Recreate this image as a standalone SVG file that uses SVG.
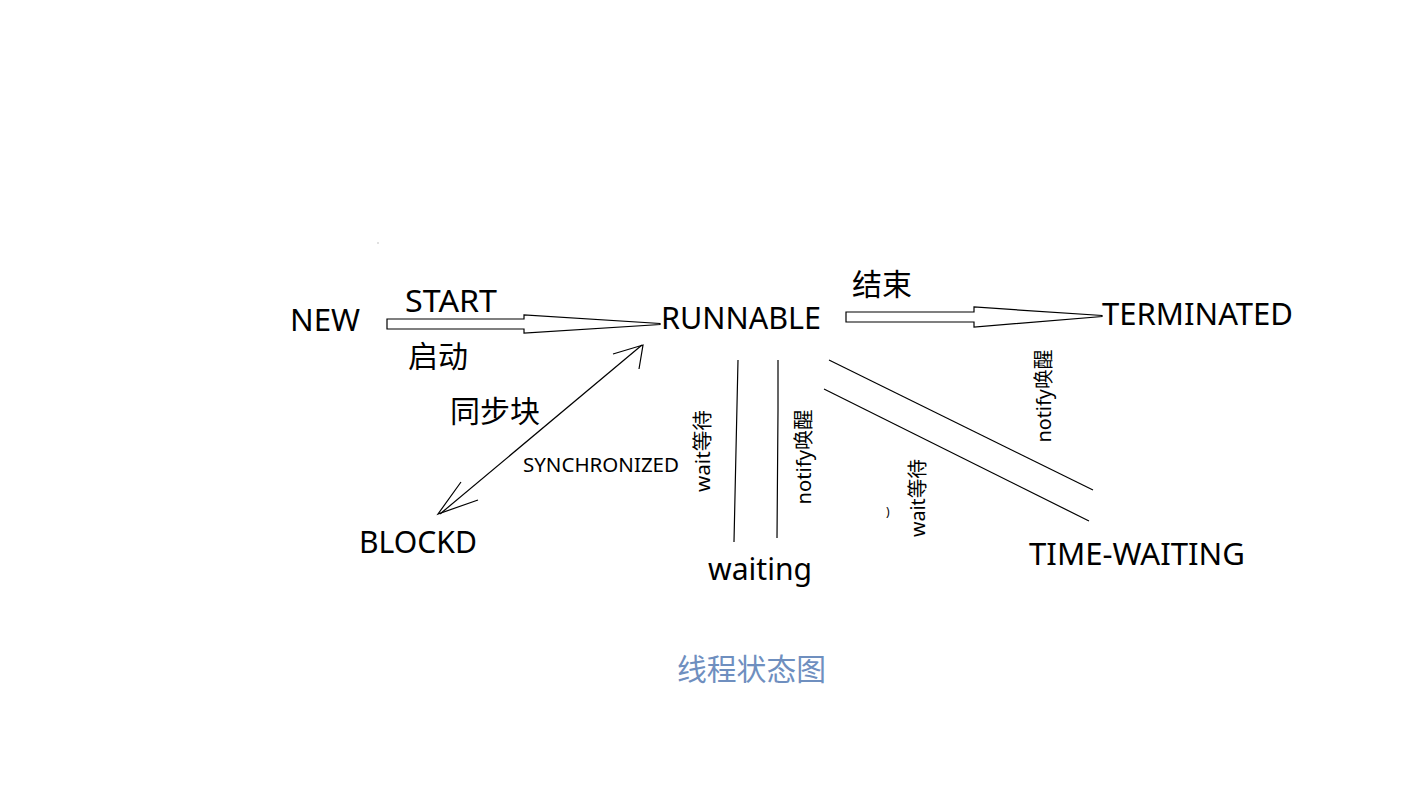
<svg xmlns="http://www.w3.org/2000/svg" width="1423" height="793" viewBox="0 0 1423 793">
<style>
.t{font-family:"Noto Sans","Noto Sans CJK SC",sans-serif;fill:#000;}
.big{font-size:30px;}
.mid{font-size:19px;}
.v{font-size:20px;text-anchor:middle;}
.cap{font-size:30px;fill:#6f8fbf;}
.ln{stroke:#000;stroke-width:1.2;fill:none;}
.ha{stroke:#000;stroke-width:1.2;fill:#fff;}
</style>
<rect width="1423" height="793" fill="#fff"/>
<circle cx="378" cy="243" r="0.8" fill="#bbb"/>
<g id="connectors">
<polygon class="ha" points="387,319 524,319 524,315 660,323.5 660,324.5 524,333 524,329 387,329"/>
<polygon class="ha" points="846,312 974,312 974,307 1102,315.5 1102,316.5 974,327 974,322 846,322"/>
<line class="ln" x1="440" y1="514" x2="642" y2="345"/>
<polyline class="ln" points="613,354 643,345 639,369"/>
<polyline class="ln" points="461,482 438,514 478,500"/>
<polyline class="ln" points="738,360 736,450 734,542"/>
<polyline class="ln" points="778,360 778,410 777,538"/>
<line class="ln" x1="829" y1="360" x2="1093" y2="490"/>
<line class="ln" x1="824" y1="389" x2="1089" y2="521"/>
</g>
<g id="new"><text class="t big" x="290" y="331" textLength="70" lengthAdjust="spacingAndGlyphs">NEW</text></g>
<g id="start-label"><text class="t big" x="405" y="312" textLength="92" lengthAdjust="spacingAndGlyphs">START</text>
<text class="t big" x="408" y="367" textLength="60" lengthAdjust="spacingAndGlyphs">启动</text></g>
<g id="runnable"><text class="t big" x="661" y="329" textLength="160" lengthAdjust="spacingAndGlyphs">RUNNABLE</text></g>
<g id="end-label"><text class="t big" x="852" y="295" textLength="60" lengthAdjust="spacingAndGlyphs">结束</text></g>
<g id="terminated"><text class="t big" x="1102" y="325" textLength="191" lengthAdjust="spacingAndGlyphs">TERMINATED</text></g>
<g id="sync-label"><text class="t big" x="450" y="422" textLength="90" lengthAdjust="spacingAndGlyphs">同步块</text>
<text class="t mid" x="523" y="472" textLength="156" lengthAdjust="spacingAndGlyphs">SYNCHRONIZED</text></g>
<g id="blockd"><text class="t big" x="359" y="553" textLength="118" lengthAdjust="spacingAndGlyphs">BLOCKD</text></g>
<g id="waiting"><text class="t big" x="708" y="580" textLength="104" lengthAdjust="spacingAndGlyphs">waiting</text></g>
<g id="time-waiting"><text class="t big" x="1029" y="565" textLength="216" lengthAdjust="spacingAndGlyphs">TIME-WAITING</text></g>
<g id="edge-labels">
<text class="t v" transform="translate(703,451) rotate(-90)" dy="0.35em" textLength="82" lengthAdjust="spacingAndGlyphs">wait等待</text>
<text class="t v" transform="translate(803.5,457) rotate(-90)" dy="0.35em" textLength="95" lengthAdjust="spacingAndGlyphs">notify唤醒</text>
<text class="t v" transform="translate(918,498) rotate(-90)" dy="0.35em" textLength="78" lengthAdjust="spacingAndGlyphs">wait等待</text>
<text class="t v" transform="translate(1044,396) rotate(-90)" dy="0.35em" textLength="93" lengthAdjust="spacingAndGlyphs">notify唤醒</text>
<text class="t" x="886" y="516" font-size="12">)</text>
</g>
<g id="caption"><text class="t cap" x="677" y="680" textLength="149" lengthAdjust="spacingAndGlyphs">线程状态图</text></g>
</svg>
